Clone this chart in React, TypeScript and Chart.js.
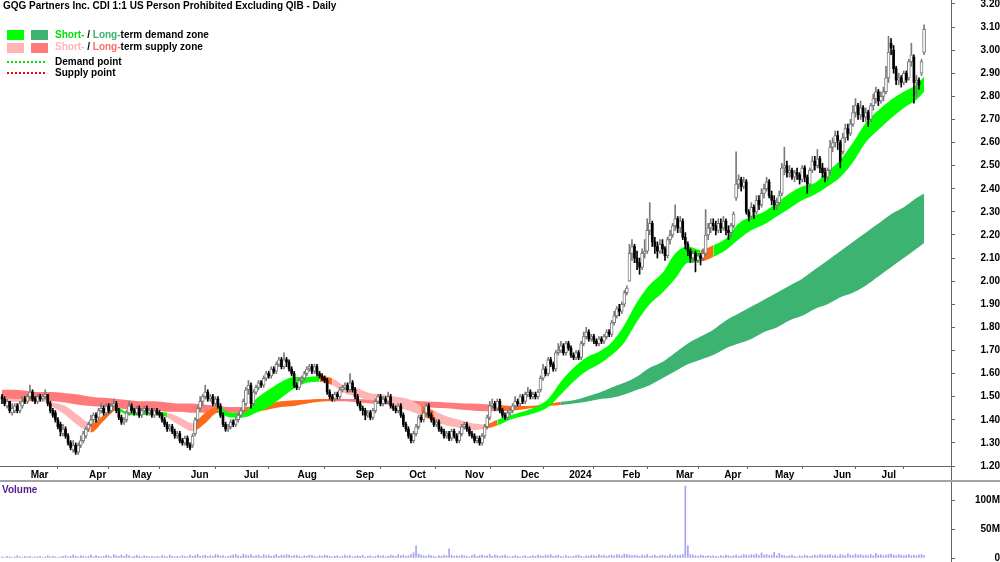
import React, { useEffect, useRef } from "react";
import { Chart, registerables } from "chart.js";
Chart.register(...registerables);

// ---------- DATA ----------
const opens = [
  1.50,1.49,1.46,1.48,1.43,1.44,1.46,1.44,1.46,1.49,
  1.48,1.50,1.52,1.49,1.48,1.50,1.49,1.50,1.51,1.47,
  1.44,1.43,1.40,1.38,1.34,1.36,1.33,1.30,1.27,1.29,
  1.26,1.29,1.31,1.33,1.36,1.38,1.40,1.42,1.41,1.44,
  1.45,1.43,1.46,1.44,1.46,1.47,1.44,1.41,1.39,1.40,
  1.43,1.46,1.44,1.43,1.45,1.42,1.44,1.45,1.43,1.44,
  1.42,1.44,1.43,1.42,1.40,1.38,1.36,1.37,1.35,1.33,
  1.34,1.31,1.30,1.32,1.29,1.29,1.34,1.40,1.45,1.48,
  1.50,1.52,1.49,1.50,1.47,1.49,1.46,1.42,1.38,1.36,
  1.37,1.39,1.38,1.40,1.42,1.44,1.47,1.53,1.55,1.47,
  1.52,1.54,1.56,1.55,1.58,1.60,1.59,1.62,1.61,1.64,
  1.66,1.63,1.66,1.65,1.62,1.60,1.55,1.54,1.57,1.58,
  1.60,1.62,1.63,1.61,1.63,1.60,1.59,1.58,1.57,1.52,
  1.50,1.49,1.51,1.50,1.53,1.54,1.55,1.53,1.56,1.53,
  1.50,1.47,1.45,1.44,1.42,1.43,1.41,1.44,1.48,1.50,
  1.47,1.49,1.48,1.50,1.46,1.45,1.44,1.46,1.42,1.38,
  1.36,1.33,1.31,1.34,1.37,1.41,1.40,1.43,1.46,1.42,
  1.40,1.38,1.39,1.36,1.35,1.33,1.34,1.32,1.35,1.33,
  1.31,1.34,1.37,1.38,1.36,1.34,1.33,1.31,1.32,1.30,
  1.33,1.37,1.41,1.46,1.47,1.45,1.48,1.44,1.42,1.41,
  1.43,1.44,1.46,1.48,1.47,1.50,1.48,1.51,1.52,1.50,
  1.51,1.50,1.53,1.58,1.62,1.60,1.66,1.64,1.62,1.69,
  1.70,1.72,1.69,1.73,1.71,1.68,1.67,1.69,1.67,1.73,
  1.76,1.78,1.75,1.76,1.74,1.73,1.75,1.74,1.76,1.78,
  1.77,1.82,1.85,1.88,1.87,1.90,1.95,2.00,2.12,2.15,
  2.10,2.08,2.06,2.12,2.13,2.22,2.25,2.17,2.15,2.13,
  2.16,2.14,2.11,2.18,2.20,2.24,2.27,2.23,2.26,2.19,
  2.16,2.13,2.10,2.12,2.09,2.11,2.10,2.12,2.20,2.23,
  2.25,2.24,2.22,2.25,2.23,2.26,2.22,2.21,2.24,2.36,
  2.42,2.44,2.41,2.43,2.30,2.28,2.32,2.30,2.35,2.33,
  2.38,2.40,2.43,2.37,2.35,2.33,2.34,2.38,2.49,2.50,
  2.47,2.48,2.45,2.47,2.46,2.44,2.49,2.45,2.42,2.48,
  2.52,2.50,2.53,2.49,2.47,2.45,2.48,2.58,2.60,2.63,
  2.60,2.56,2.62,2.66,2.64,2.68,2.73,2.76,2.72,2.75,
  2.71,2.73,2.70,2.76,2.79,2.82,2.78,2.80,2.82,2.88,
  3.03,3.00,2.92,2.87,2.88,2.86,2.90,2.88,2.95,2.97,
  2.86,2.87,2.90,2.99,
];
const highs = [
  1.51,1.50,1.49,1.48,1.47,1.47,1.47,1.48,1.50,1.50,
  1.51,1.55,1.53,1.50,1.51,1.51,1.51,1.53,1.51,1.48,
  1.45,1.44,1.41,1.39,1.38,1.37,1.34,1.31,1.31,1.30,
  1.30,1.33,1.35,1.37,1.39,1.42,1.43,1.43,1.45,1.47,
  1.46,1.47,1.47,1.47,1.49,1.48,1.45,1.42,1.41,1.44,
  1.48,1.47,1.45,1.46,1.46,1.45,1.46,1.46,1.45,1.45,
  1.45,1.45,1.44,1.43,1.41,1.39,1.38,1.38,1.36,1.35,
  1.35,1.32,1.33,1.33,1.30,1.34,1.41,1.46,1.50,1.51,
  1.55,1.53,1.51,1.51,1.50,1.50,1.47,1.43,1.39,1.38,
  1.40,1.40,1.41,1.43,1.45,1.49,1.54,1.57,1.56,1.53,
  1.55,1.57,1.57,1.59,1.61,1.61,1.63,1.63,1.65,1.67,
  1.67,1.69,1.67,1.66,1.63,1.61,1.56,1.58,1.59,1.61,
  1.63,1.64,1.64,1.64,1.64,1.61,1.60,1.59,1.58,1.53,
  1.51,1.52,1.52,1.54,1.55,1.56,1.56,1.60,1.57,1.54,
  1.51,1.48,1.46,1.45,1.44,1.44,1.45,1.49,1.51,1.51,
  1.50,1.50,1.52,1.51,1.47,1.46,1.47,1.47,1.43,1.39,
  1.37,1.34,1.35,1.38,1.42,1.42,1.44,1.47,1.47,1.43,
  1.41,1.40,1.40,1.37,1.36,1.35,1.35,1.36,1.36,1.34,
  1.35,1.38,1.39,1.39,1.37,1.35,1.34,1.33,1.33,1.34,
  1.38,1.42,1.48,1.49,1.48,1.49,1.49,1.45,1.43,1.44,
  1.45,1.47,1.50,1.49,1.51,1.51,1.52,1.54,1.53,1.52,
  1.52,1.53,1.59,1.64,1.63,1.67,1.67,1.65,1.70,1.73,
  1.74,1.73,1.74,1.74,1.72,1.69,1.70,1.70,1.74,1.78,
  1.80,1.79,1.77,1.77,1.75,1.76,1.76,1.77,1.79,1.79,
  1.83,1.87,1.89,1.90,1.91,1.96,1.98,2.16,2.18,2.16,
  2.13,2.10,2.14,2.18,2.27,2.34,2.26,2.19,2.17,2.18,
  2.18,2.15,2.19,2.22,2.25,2.33,2.28,2.28,2.27,2.21,
  2.17,2.14,2.13,2.13,2.12,2.12,2.14,2.31,2.25,2.27,
  2.27,2.26,2.27,2.27,2.28,2.27,2.24,2.25,2.30,2.56,
  2.46,2.45,2.45,2.44,2.31,2.34,2.33,2.37,2.37,2.40,
  2.42,2.45,2.44,2.39,2.37,2.36,2.39,2.51,2.58,2.52,
  2.50,2.49,2.48,2.49,2.47,2.50,2.50,2.46,2.49,2.54,
  2.54,2.57,2.54,2.51,2.49,2.49,2.61,2.62,2.65,2.65,
  2.61,2.64,2.68,2.68,2.70,2.76,2.79,2.77,2.78,2.76,
  2.75,2.74,2.77,2.81,2.84,2.83,2.82,2.84,2.93,3.06,
  3.05,3.02,2.93,2.90,2.89,2.91,2.91,2.96,3.03,2.98,
  2.89,2.88,2.96,3.11,
];
const lows = [
  1.47,1.46,1.45,1.43,1.42,1.43,1.43,1.43,1.45,1.47,
  1.47,1.49,1.48,1.47,1.47,1.48,1.48,1.49,1.46,1.43,
  1.41,1.39,1.36,1.33,1.33,1.32,1.29,1.27,1.26,1.25,
  1.25,1.28,1.30,1.32,1.35,1.37,1.39,1.39,1.40,1.43,
  1.42,1.42,1.43,1.43,1.45,1.43,1.40,1.38,1.38,1.39,
  1.42,1.43,1.42,1.42,1.41,1.41,1.43,1.42,1.42,1.41,
  1.41,1.42,1.41,1.39,1.37,1.35,1.35,1.34,1.32,1.32,
  1.30,1.29,1.29,1.28,1.27,1.28,1.33,1.39,1.44,1.46,
  1.49,1.48,1.48,1.46,1.46,1.45,1.41,1.37,1.35,1.35,
  1.36,1.37,1.37,1.39,1.41,1.43,1.46,1.51,1.45,1.46,
  1.51,1.53,1.54,1.54,1.57,1.58,1.58,1.60,1.60,1.63,
  1.62,1.62,1.63,1.61,1.59,1.54,1.53,1.53,1.56,1.57,
  1.59,1.61,1.60,1.60,1.59,1.58,1.57,1.56,1.51,1.49,
  1.48,1.48,1.49,1.49,1.52,1.53,1.52,1.52,1.52,1.49,
  1.46,1.44,1.42,1.40,1.41,1.40,1.40,1.43,1.47,1.46,
  1.46,1.47,1.47,1.45,1.44,1.43,1.43,1.41,1.37,1.35,
  1.32,1.30,1.30,1.33,1.36,1.39,1.39,1.42,1.41,1.39,
  1.37,1.37,1.35,1.34,1.32,1.32,1.31,1.31,1.32,1.30,
  1.30,1.33,1.36,1.35,1.33,1.32,1.30,1.30,1.29,1.29,
  1.32,1.36,1.40,1.45,1.44,1.44,1.43,1.41,1.40,1.40,
  1.42,1.43,1.45,1.46,1.46,1.47,1.47,1.50,1.49,1.49,
  1.49,1.49,1.52,1.57,1.59,1.59,1.63,1.61,1.61,1.68,
  1.69,1.68,1.68,1.70,1.67,1.66,1.66,1.66,1.66,1.72,
  1.75,1.74,1.74,1.73,1.72,1.72,1.73,1.73,1.75,1.76,
  1.76,1.81,1.84,1.85,1.86,1.89,1.94,2.00,2.09,2.08,
  2.05,2.03,2.05,2.10,2.12,2.20,2.15,2.12,2.10,2.12,
  2.12,2.09,2.10,2.16,2.19,2.22,2.21,2.21,2.18,2.14,
  2.11,2.08,2.08,2.04,2.08,2.07,2.09,2.11,2.18,2.21,
  2.22,2.20,2.21,2.21,2.22,2.20,2.18,2.19,2.23,2.35,
  2.40,2.39,2.40,2.29,2.26,2.27,2.27,2.29,2.31,2.32,
  2.36,2.39,2.36,2.33,2.31,2.31,2.33,2.37,2.46,2.45,
  2.45,2.44,2.43,2.44,2.42,2.43,2.43,2.38,2.41,2.47,
  2.48,2.49,2.47,2.45,2.43,2.44,2.46,2.56,2.58,2.57,
  2.49,2.55,2.60,2.61,2.63,2.67,2.71,2.70,2.70,2.69,
  2.69,2.67,2.69,2.74,2.77,2.76,2.77,2.78,2.81,2.86,
  2.98,2.90,2.85,2.85,2.84,2.85,2.86,2.87,2.93,2.77,
  2.80,2.83,2.89,2.98,
];
const closes = [
  1.49,1.47,1.48,1.44,1.45,1.46,1.44,1.47,1.48,1.48,
  1.50,1.52,1.49,1.48,1.50,1.49,1.50,1.51,1.47,1.44,
  1.42,1.40,1.37,1.35,1.36,1.33,1.30,1.28,1.29,1.26,
  1.29,1.31,1.34,1.36,1.38,1.40,1.42,1.41,1.44,1.45,
  1.43,1.46,1.44,1.46,1.47,1.44,1.41,1.39,1.40,1.43,
  1.46,1.44,1.43,1.45,1.42,1.44,1.45,1.43,1.44,1.42,
  1.44,1.43,1.42,1.40,1.38,1.36,1.37,1.35,1.33,1.34,
  1.31,1.30,1.32,1.29,1.28,1.33,1.40,1.45,1.48,1.50,
  1.52,1.49,1.50,1.47,1.49,1.46,1.42,1.38,1.36,1.37,
  1.39,1.38,1.40,1.42,1.44,1.48,1.53,1.55,1.47,1.52,
  1.54,1.56,1.55,1.58,1.60,1.59,1.62,1.61,1.64,1.66,
  1.63,1.66,1.65,1.62,1.60,1.55,1.54,1.57,1.58,1.60,
  1.62,1.63,1.61,1.63,1.60,1.59,1.58,1.57,1.52,1.50,
  1.49,1.51,1.50,1.53,1.54,1.55,1.53,1.56,1.53,1.50,
  1.47,1.45,1.44,1.42,1.43,1.41,1.44,1.48,1.50,1.47,
  1.49,1.48,1.50,1.46,1.45,1.44,1.46,1.42,1.38,1.36,
  1.33,1.31,1.34,1.37,1.41,1.40,1.43,1.46,1.42,1.40,
  1.38,1.39,1.36,1.35,1.33,1.34,1.32,1.35,1.33,1.31,
  1.34,1.37,1.38,1.36,1.34,1.33,1.31,1.32,1.30,1.33,
  1.37,1.41,1.46,1.47,1.45,1.48,1.44,1.42,1.41,1.43,
  1.44,1.46,1.48,1.47,1.50,1.48,1.51,1.52,1.50,1.51,
  1.50,1.52,1.58,1.62,1.60,1.66,1.64,1.62,1.69,1.70,
  1.72,1.69,1.73,1.71,1.68,1.67,1.69,1.67,1.73,1.76,
  1.78,1.75,1.76,1.74,1.73,1.75,1.74,1.76,1.78,1.77,
  1.82,1.85,1.88,1.87,1.90,1.95,1.97,2.12,2.15,2.10,
  2.08,2.06,2.12,2.13,2.22,2.25,2.17,2.15,2.13,2.16,
  2.14,2.11,2.18,2.20,2.24,2.27,2.23,2.26,2.19,2.16,
  2.13,2.10,2.12,2.09,2.11,2.10,2.12,2.20,2.23,2.25,
  2.24,2.22,2.25,2.23,2.26,2.22,2.21,2.24,2.29,2.42,
  2.44,2.41,2.43,2.30,2.28,2.32,2.30,2.35,2.33,2.38,
  2.40,2.43,2.37,2.35,2.33,2.34,2.37,2.49,2.50,2.47,
  2.48,2.45,2.47,2.46,2.44,2.49,2.45,2.42,2.48,2.52,
  2.50,2.53,2.49,2.47,2.45,2.48,2.58,2.60,2.63,2.61,
  2.52,2.62,2.66,2.64,2.68,2.73,2.76,2.72,2.75,2.71,
  2.73,2.70,2.76,2.79,2.82,2.78,2.80,2.82,2.88,2.99,
  3.01,2.92,2.87,2.88,2.86,2.90,2.87,2.95,2.98,2.86,
  2.87,2.85,2.95,3.09,
];
// volume in millions
const volumes = [
  2,1,3,2,1,2,4,2,1,3,2,3,1,2,2,3,1,2,4,2,
  3,2,1,2,3,4,2,3,5,3,2,4,3,2,3,5,2,4,3,2,
  3,5,4,2,6,4,3,5,3,6,4,2,3,5,3,2,4,3,2,3,
  2,3,2,4,3,2,5,3,2,3,2,4,3,2,5,3,4,6,3,4,
  5,3,4,3,6,5,3,4,2,3,4,5,6,4,3,7,5,4,6,3,
  4,5,3,6,4,5,3,4,6,3,5,4,6,5,3,4,5,3,2,4,
  3,5,4,3,2,4,3,5,4,3,2,3,4,2,3,5,3,4,2,3,
  4,3,5,2,3,4,2,3,5,3,4,2,3,5,4,3,6,4,5,3,
  4,6,9,21,7,5,4,3,5,4,3,2,4,3,5,4,16,5,3,4,
  3,5,4,3,2,4,6,3,4,5,3,4,6,3,5,4,3,4,5,3,
  2,3,4,3,2,3,4,2,3,4,3,5,4,3,5,4,6,3,4,5,
  3,2,4,3,2,3,4,5,3,2,4,3,5,4,3,6,4,5,3,4,
  5,4,6,5,4,7,6,5,4,5,4,3,5,4,6,3,4,5,3,4,
  5,4,3,6,4,5,4,5,6,124,
  21,6,5,4,3,5,4,3,4,3,
  4,3,2,4,3,5,4,3,4,5,3,4,6,5,4,6,5,7,4,9,
  5,6,4,5,10,4,8,5,4,3,4,5,3,2,4,3,5,4,3,4,
  5,4,6,5,4,5,6,4,5,3,6,5,4,7,5,4,7,5,6,4,
  5,4,6,4,8,5,6,4,5,6,7,5,4,6,5,4,5,6,4,5,
  4,5,6,4,
];

// zone bands sampled on trading-day index
const bandIdx = [
  0,5,10,15,20,25,30,35,40,45,50,55,60,65,70,75,80,85,90,95,
  100,105,110,115,120,125,130,135,140,145,150,155,160,165,170,175,180,185,190,195,
  200,205,210,215,220,225,230,235,240,245,250,255,260,265,270,275,280,285,290,295,
  300,305,310,315,320,325,330,335,340,345,350,355,360,363,
];
const shortUpper = [
  1.495,1.49,1.49,1.495,1.475,1.46,1.42,1.385,1.42,1.455,
  1.43,1.43,1.435,1.43,1.41,1.385,1.43,1.455,1.43,1.43,
  1.49,1.53,1.565,1.585,1.585,1.59,1.58,1.545,1.535,1.515,
  1.51,1.50,1.49,1.46,1.44,1.415,1.40,1.385,1.38,1.40,
  1.42,1.435,1.455,1.49,1.565,1.625,1.67,1.695,1.735,1.81,
  1.91,1.985,2.035,2.12,2.15,2.135,2.155,2.185,2.25,2.28,
  2.30,2.34,2.38,2.41,2.425,2.475,2.525,2.60,2.685,2.74,
  2.785,2.82,2.85,2.885,
];
const shortLower = [
  1.485,1.478,1.48,1.485,1.455,1.42,1.375,1.345,1.395,1.44,
  1.42,1.42,1.425,1.41,1.375,1.35,1.385,1.43,1.41,1.41,
  1.43,1.455,1.495,1.535,1.56,1.565,1.55,1.515,1.50,1.485,
  1.485,1.455,1.44,1.42,1.395,1.375,1.365,1.355,1.36,1.375,
  1.40,1.415,1.43,1.455,1.51,1.565,1.61,1.64,1.68,1.735,
  1.825,1.90,1.95,2.01,2.08,2.085,2.105,2.135,2.18,2.22,
  2.245,2.28,2.315,2.35,2.375,2.41,2.45,2.515,2.60,2.655,
  2.705,2.75,2.785,2.82,
];
// D = demand, S = supply, T = transition
const shortState = [
  "S","S","T","S","S","S","S","T","T","D",
  "D","D","D","S","S","T","T","D","D","D",
  "D","D","D","D","D","T","S","S","S","S",
  "S","S","S","T","S","S","S","S","T","D",
  "D","D","D","D","D","D","D","D","D","D",
  "D","D","D","D","D","T","D","D","D","D",
  "D","D","D","D","D","D","D","D","D","D",
  "D","D","D","D",
];
const longUpper = [
  1.53,1.53,1.525,1.52,1.52,1.515,1.51,1.50,1.495,1.49,
  1.485,1.48,1.48,1.475,1.47,1.47,1.465,1.46,1.455,1.455,
  1.46,1.47,1.48,1.485,1.487,1.49,1.49,1.49,1.49,1.487,
  1.486,1.485,1.483,1.48,1.478,1.475,1.472,1.47,1.467,1.465,
  1.46,1.46,1.462,1.47,1.478,1.485,1.50,1.517,1.54,1.56,
  1.587,1.625,1.65,1.69,1.73,1.76,1.79,1.83,1.86,1.89,
  1.92,1.95,1.98,2.01,2.05,2.09,2.13,2.17,2.21,2.25,
  2.29,2.32,2.36,2.38,
];
const longLower = [
  1.49,1.49,1.49,1.485,1.48,1.475,1.465,1.46,1.455,1.45,
  1.445,1.44,1.44,1.435,1.435,1.43,1.43,1.43,1.43,1.43,
  1.435,1.445,1.455,1.46,1.47,1.478,1.48,1.48,1.475,1.47,
  1.467,1.462,1.458,1.455,1.452,1.45,1.445,1.44,1.437,1.437,
  1.44,1.445,1.452,1.46,1.464,1.47,1.478,1.489,1.495,1.51,
  1.53,1.55,1.58,1.61,1.64,1.66,1.68,1.71,1.73,1.75,
  1.78,1.80,1.83,1.85,1.88,1.90,1.93,1.95,1.98,2.02,
  2.06,2.10,2.14,2.165,
];
const longState = [
  "S","S","S","S","S","S","S","S","S","S",
  "S","S","S","S","S","S","S","S","S","T",
  "T","T","T","T","T","T","S","S","S","S",
  "S","S","S","S","S","S","S","S","S","T",
  "T","T","T","T","D","D","D","D","D","D",
  "D","D","D","D","D","D","D","D","D","D",
  "D","D","D","D","D","D","D","D","D","D",
  "D","D","D","D",
];

const monthIdx = [11,34,51,74,95,116,139,160,182,204,223,244,265,284,304,327,346];
const monthLabels = ["Mar","Apr","May","Jun","Jul","Aug","Sep","Oct","Nov","Dec","2024","Feb","Mar","Apr","May","Jun","Jul"];
const priceTicks = [1.2,1.3,1.4,1.5,1.6,1.7,1.8,1.9,2.0,2.1,2.2,2.3,2.4,2.5,2.6,2.7,2.8,2.9,3.0,3.1,3.2];
const volTicks = [0, 50, 100];
const volTickLabels = ["0", "50M", "100M"];

const TITLE = "GQG Partners Inc. CDI 1:1 US Person Prohibited Excluding QIB - Daily";

// ---------- STYLE ----------
const FAMILY = '"Liberation Sans", Arial, Helvetica, sans-serif';
const C = {
  shortD: "#00ff00",
  shortS: "#ffb5b5",
  longD: "#3cb371",
  longS: "#ff7b7b",
  trans: "#ff6a1a",
  upBody: "#ffffff",
  upEdge: "#7a7a7a",
  down: "#000000",
  upWick: "#7a7a7a",
  axis: "#666666",
  vol: "#a4a4f2",
};
const X_MIN = -0.8;
const X_MAX = 373.6;

function zoneColor(state: string, isShort: boolean) {
  if (state === "T") return C.trans;
  if (state === "D") return isShort ? C.shortD : C.longD;
  return isShort ? C.shortS : C.longS;
}

export default function App() {
  const priceRef = useRef<HTMLCanvasElement>(null);
  const volRef = useRef<HTMLCanvasElement>(null);

  useEffect(() => {
    Chart.defaults.font.family = FAMILY;
    const idx = closes.map((_, i) => i);
    const isUp = (i: number) => closes[i] >= opens[i];
    const upIdx = idx.filter((i) => isUp(i));
    const downIdx = idx.filter((i) => !isUp(i));

    const bandLine = (vals: number[], order: number, fill: any, states?: string[], isShort?: boolean) => ({
      type: "line" as const,
      data: bandIdx.map((x, k) => ({ x, y: vals[k] })),
      borderWidth: 0,
      borderColor: "rgba(0,0,0,0)",
      pointRadius: 0,
      cubicInterpolationMode: "monotone" as const,
      fill,
      order,
      backgroundColor: states ? zoneColor(states[0], !!isShort) : "rgba(0,0,0,0)",
      segment: states
        ? { backgroundColor: (ctx: any) => zoneColor(states[ctx.p0DataIndex], !!isShort) }
        : undefined,
    });

    const tickFont = { family: FAMILY, size: 10, weight: "bold" as const };

    const priceExtras = {
      id: "priceExtras",
      afterDraw(chart: any) {
        const ctx = chart.ctx;
        const { right, bottom } = chart.chartArea;
        ctx.save();
        ctx.strokeStyle = C.axis;
        ctx.lineWidth = 1;
        ctx.beginPath();
        ctx.moveTo(Math.round(right) + 0.5, bottom);
        ctx.lineTo(Math.round(right) + 0.5, chart.height);
        ctx.stroke();
        ctx.strokeStyle = "#a3a3a3";
        ctx.lineWidth = 2;
        ctx.beginPath();
        ctx.moveTo(0, chart.height - 2);
        ctx.lineTo(chart.width, chart.height - 2);
        ctx.stroke();
        ctx.restore();
      },
    };

    const price = new Chart(priceRef.current as HTMLCanvasElement, {
      type: "bar",
      data: {
        datasets: [
          bandLine(longLower, 40, false) as any,
          bandLine(longUpper, 39, "-1", longState, false) as any,
          bandLine(shortLower, 30, false) as any,
          bandLine(shortUpper, 29, "-1", shortState, true) as any,
          {
            type: "bar",
            data: idx.map((i) => ({ x: i, y: [lows[i], highs[i]] })),
            barThickness: 1,
            grouped: false,
            order: 3,
            backgroundColor: (ctx: any) => (isUp(ctx.dataIndex) ? C.upWick : C.down),
            borderWidth: 0,
          },
          {
            type: "bar",
            data: upIdx.map((i) => ({ x: i, y: [opens[i], closes[i]] })),
            barThickness: 3,
            minBarLength: 2,
            grouped: false,
            order: 2,
            backgroundColor: C.upBody,
            borderColor: C.upEdge,
            borderWidth: 1,
            borderSkipped: false,
          },
          {
            type: "bar",
            data: downIdx.map((i) => ({ x: i, y: [opens[i], closes[i]] })),
            barThickness: 2,
            minBarLength: 1,
            grouped: false,
            order: 1,
            backgroundColor: C.down,
            borderWidth: 0,
          },
        ],
      },
      options: {
        responsive: false,
        animation: false,
        devicePixelRatio: 1,
        layout: { padding: 0 },
        events: [],
        plugins: { legend: { display: false }, tooltip: { enabled: false }, title: { display: false } },
        scales: {
          x: {
            type: "linear",
            min: X_MIN,
            max: X_MAX,
            bounds: "data",
            offset: false,
            afterBuildTicks: (s: any) => {
              s.ticks = monthIdx.map((v) => ({ value: v - 0.5 }));
            },
            afterFit: (s: any) => {
              s.height = 17;
              s.paddingLeft = 0;
              s.paddingRight = 0;
            },
            ticks: {
              autoSkip: false,
              maxRotation: 0,
              minRotation: 0,
              align: "start",
              labelOffset: 2,
              padding: 0,
              color: "#000",
              font: tickFont,
              callback: (_v: any, k: number) => monthLabels[k],
            },
            grid: { display: true, drawOnChartArea: false, drawTicks: true, tickLength: 3, color: C.axis },
            border: { display: true, color: C.axis, width: 1 },
          },
          y: {
            type: "linear",
            position: "right",
            min: 1.2,
            max: 3.217,
            bounds: "data",
            afterBuildTicks: (s: any) => {
              s.ticks = priceTicks.map((v) => ({ value: v }));
            },
            afterFit: (s: any) => {
              s.width = 49;
              s.paddingTop = 0;
              s.paddingBottom = 0;
            },
            ticks: {
              crossAlign: "far",
              padding: 22,
              color: "#000",
              font: tickFont,
              callback: (v: any) => Number(v).toFixed(2),
            },
            grid: { display: true, drawOnChartArea: false, drawTicks: true, tickLength: 4, color: C.axis },
            border: { display: true, color: C.axis, width: 1 },
          },
        },
      } as any,
      plugins: [priceExtras],
    });

    const volExtras = {
      id: "volExtras",
      afterDraw(chart: any) {
        const ctx = chart.ctx;
        const { right } = chart.chartArea;
        ctx.save();
        ctx.strokeStyle = C.axis;
        ctx.lineWidth = 1;
        ctx.beginPath();
        ctx.moveTo(Math.round(right) + 0.5, 0);
        ctx.lineTo(Math.round(right) + 0.5, chart.height);
        ctx.stroke();
        ctx.restore();
      },
    };

    const vol = new Chart(volRef.current as HTMLCanvasElement, {
      type: "bar",
      data: {
        datasets: [
          {
            data: idx.map((i) => ({ x: i, y: volumes[i] })),
            barThickness: 1,
            backgroundColor: C.vol,
            borderWidth: 0,
          },
        ],
      },
      options: {
        responsive: false,
        animation: false,
        devicePixelRatio: 1,
        events: [],
        layout: { padding: { top: 1, bottom: 4, left: 0, right: 0 } },
        plugins: { legend: { display: false }, tooltip: { enabled: false } },
        scales: {
          x: { type: "linear", min: X_MIN, max: X_MAX, bounds: "data", offset: false, display: false },
          y: {
            type: "linear",
            position: "right",
            min: 0,
            max: 127.6,
            bounds: "data",
            afterBuildTicks: (s: any) => {
              s.ticks = volTicks.map((v) => ({ value: v }));
            },
            afterFit: (s: any) => {
              s.width = 49;
              s.paddingTop = 0;
              s.paddingBottom = 0;
            },
            ticks: {
              crossAlign: "far",
              padding: 17,
              color: "#000",
              font: tickFont,
              callback: (_v: any, k: number) => volTickLabels[k],
            },
            grid: { display: true, drawOnChartArea: false, drawTicks: true, tickLength: 4, color: C.axis },
            border: { display: true, color: C.axis, width: 1 },
          },
        },
      } as any,
      plugins: [volExtras],
    });

    return () => {
      price.destroy();
      vol.destroy();
    };
  }, []);

  const txt: React.CSSProperties = {
    position: "absolute",
    font: `bold 10px ${FAMILY}`,
    lineHeight: "12px",
    whiteSpace: "nowrap",
    color: "#000",
  };
  const sw = (left: number, top: number, bg: string): React.CSSProperties => ({
    position: "absolute",
    left,
    top,
    width: 17,
    height: 10,
    background: bg,
  });

  return (
    <div
      style={{
        position: "fixed",
        left: 0,
        top: 0,
        width: 1000,
        height: 562,
        background: "#fff",
        overflow: "hidden",
      }}
    >
      <canvas
        ref={priceRef}
        width={1000}
        height={483}
        style={{ position: "absolute", left: 0, top: 0, width: 1000, height: 483 }}
      />
      <canvas
        ref={volRef}
        width={1000}
        height={79}
        style={{ position: "absolute", left: 0, top: 483, width: 1000, height: 79 }}
      />
      <div style={{ ...txt, left: 3, top: 0 }}>{TITLE}</div>

      <div style={sw(7, 30, C.shortD)} />
      <div style={sw(31, 30, C.longD)} />
      <div style={{ ...txt, left: 55, top: 29 }}>
        <span style={{ color: "#00e000" }}>Short-</span> / <span style={{ color: C.longD }}>Long-</span>term demand zone
      </div>
      <div style={sw(7, 43, C.shortS)} />
      <div style={sw(31, 43, C.longS)} />
      <div style={{ ...txt, left: 55, top: 41 }}>
        <span style={{ color: C.shortS }}>Short-</span> / <span style={{ color: "#ff6b6b" }}>Long-</span>term supply zone
      </div>
      <div style={{ position: "absolute", left: 7, top: 61, width: 38, borderTop: "2px dotted #00e000" }} />
      <div style={{ ...txt, left: 55, top: 56 }}>Demand point</div>
      <div style={{ position: "absolute", left: 7, top: 72, width: 38, borderTop: "2px dotted #ff0000" }} />
      <div style={{ ...txt, left: 55, top: 67 }}>Supply point</div>

      <div style={{ ...txt, left: 2, top: 484, color: "#551a8b" }}>Volume</div>
    </div>
  );
}
